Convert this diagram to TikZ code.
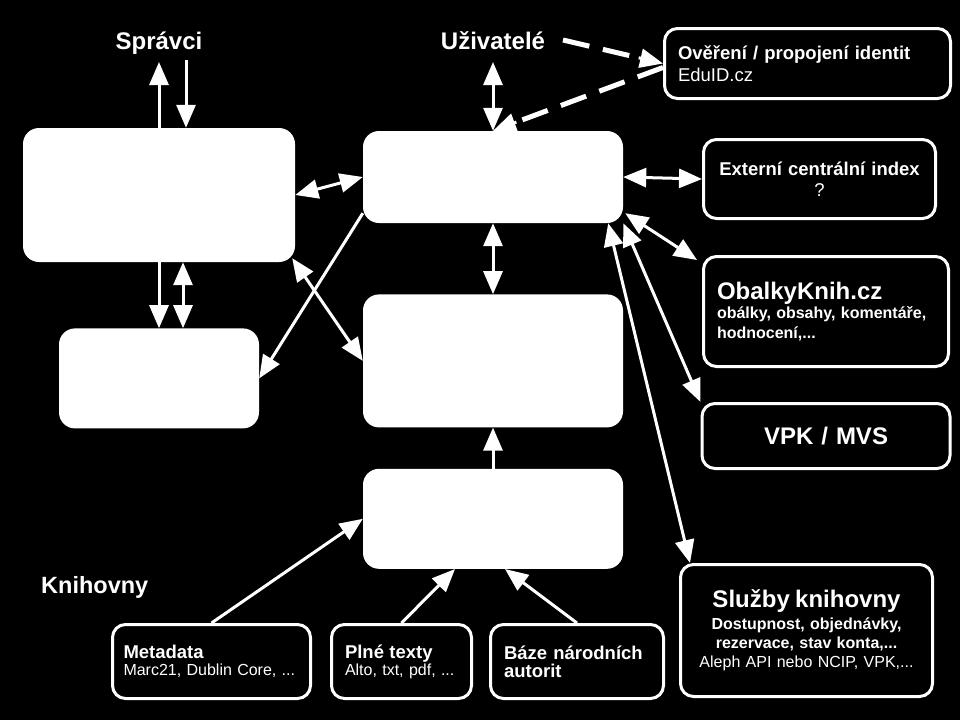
\documentclass[tikz,border=0pt]{standalone}
\usepackage{fontspec}
\setmainfont{Liberation Sans}
\usetikzlibrary{positioning, arrows.meta, calc}

\newcommand{\px}[2]{\fontsize{#1}{#2}\selectfont}

\begin{document}
\begin{tikzpicture}[
  x=1pt, y=-1pt,
  block/.style={rectangle, fill=white, rounded corners=16pt},
  infobox/.style={rectangle, draw=white, line width=3pt, rounded corners=13pt, text=white, inner xsep=13.5pt, inner ysep=0pt, align=left},
  heading/.style={text=white, font=\px{24}{28}\bfseries, inner sep=0pt},
  arrow/.style={draw=white, line width=3pt, -{Triangle[length=23pt,width=19pt]}},
  biarrow/.style={draw=white, line width=3pt, {Triangle[length=23pt,width=19pt]}-{Triangle[length=23pt,width=19pt]}},
  dashline/.style={draw=white, line width=5pt, dash pattern=on 27pt off 14pt, shorten >=21pt}
]
\fill[black] (0,0) rectangle (960,720);

\node[heading, anchor=base] (spravci) at (159,49) {Správci};
\node[heading, anchor=base] (uzivatele) at (493,49) {Uživatelé};
\node[heading, anchor=base west, font=\px{23.5}{28}\bfseries] (knihovny) at (41,593) {Knihovny};

\node[block, minimum width=272pt, minimum height=134pt] (admin) at (159,195) {};
\node[block, minimum width=200pt, minimum height=100pt, below=66pt of admin] (lokal) {};
\node[block, minimum width=260pt, minimum height=92pt] (portal) at (493,177) {};
\node[block, minimum width=260pt, minimum height=133pt, below=71pt of portal] (index) {};
\node[block, minimum width=260pt, minimum height=100pt, below=41pt of index] (harvest) {};

\node[infobox, text width=259pt, minimum height=70pt, font=\px{18.5}{22}] (eduid) at (807.5,63.5)
  {\textbf{Ověření / propojení identit}\\EduID.cz};
\node[infobox, align=center, text width=205pt, minimum height=79pt, font=\px{18.5}{21}] (extindex) at (819.5,179)
  {\textbf{Externí centrální index}\\?};
\node[infobox, text width=218pt, minimum height=110pt, font=\px{16}{19.5}\bfseries] (obalky) at (826,311.5)
  {{\px{24}{28}ObalkyKnih.cz}\\obálky, obsahy, komentáře,\\hodnocení,...};
\node[infobox, align=center, text width=221pt, minimum height=65pt, font=\px{24}{28}\bfseries, below=34pt of obalky] (vpk)
  {VPK / MVS};
\node[infobox, align=center, text width=225pt, minimum height=132pt, font=\px{16}{19}\bfseries] (sluzby) at (806.5,630.5)
  {{\px{24}{28}Služby knihovny}\\[3pt]Dostupnost, objednávky,\\rezervace, stav konta,...\\{\mdseries Aleph API nebo NCIP, VPK,...}};

\node[infobox, inner xsep=11pt, text width=176pt, minimum height=74pt, font=\px{16}{17}] (metadata) at (211.5,661.5)
  {{\bfseries\px{18.5}{17}Metadata}\\Marc21, Dublin Core, ...};
\node[infobox, text width=113pt, minimum height=74pt, font=\px{16}{17}, right=18pt of metadata] (fulltext)
  {{\bfseries\px{18.5}{17}Plné texty}\\Alto, txt, pdf, ...};
\node[infobox, text width=146pt, minimum height=74pt, font=\px{18.5}{18}\bfseries, right=16pt of fulltext] (autority)
  {Báze národních\\autorit};

\coordinate (sprup) at (159,62);
\coordinate (sprdown) at (186,60);
\coordinate (uzup) at (493,62);
\coordinate (uzdash) at (563,40);
\coordinate (eduidin) at ($(eduid.west)+(0,4)$);

\draw[arrow] (admin.north) -- (sprup);
\draw[arrow] (sprdown) -- (sprdown |- admin.north);
\draw[biarrow] (uzup) -- (portal.north);
\draw[dashline] (uzdash) -- (eduid.west);
\draw[arrow] ($(eduid.west)!25pt!(uzdash)$) -- (eduid.west);
\draw[dashline] (eduidin) -- (portal.north);
\draw[arrow] ($(portal.north)!25pt!(eduidin)$) -- (portal.north);

\draw[biarrow] (admin.east) -- (portal.west);
\draw[biarrow] (portal.east) -- (extindex.west);
\draw[biarrow] (portal.south) -- (index.north);
\draw[arrow] (harvest.north) -- (index.south);
\draw[arrow] (admin.south) -- (lokal.north);
\draw[biarrow] ($(admin.south)+(24,0)$) -- ($(lokal.north)+(24,0)$);
\draw[arrow] ($(portal.south west)+(0,-10)$) -- (lokal.east);
\draw[biarrow] ($(admin.south east)+(-3,-4)$) -- (index.west);

\draw[arrow] (metadata.north) -- (harvest.west);
\draw[arrow] (fulltext.north) -- ($(harvest.south)+(-38,0)$);
\draw[arrow] (autority.north) -- ($(harvest.south)+(12,0)$);

\draw[biarrow] ($(portal.south east)+(2,-10)$) -- ($(obalky.north west)+(-5,5)$);
\draw[biarrow] (portal.south east) -- (vpk.north west);
\draw[biarrow] ($(portal.south east)+(-15,0)$) -- ($(sluzby.north west)+(11,0)$);
\end{tikzpicture}
\end{document}
